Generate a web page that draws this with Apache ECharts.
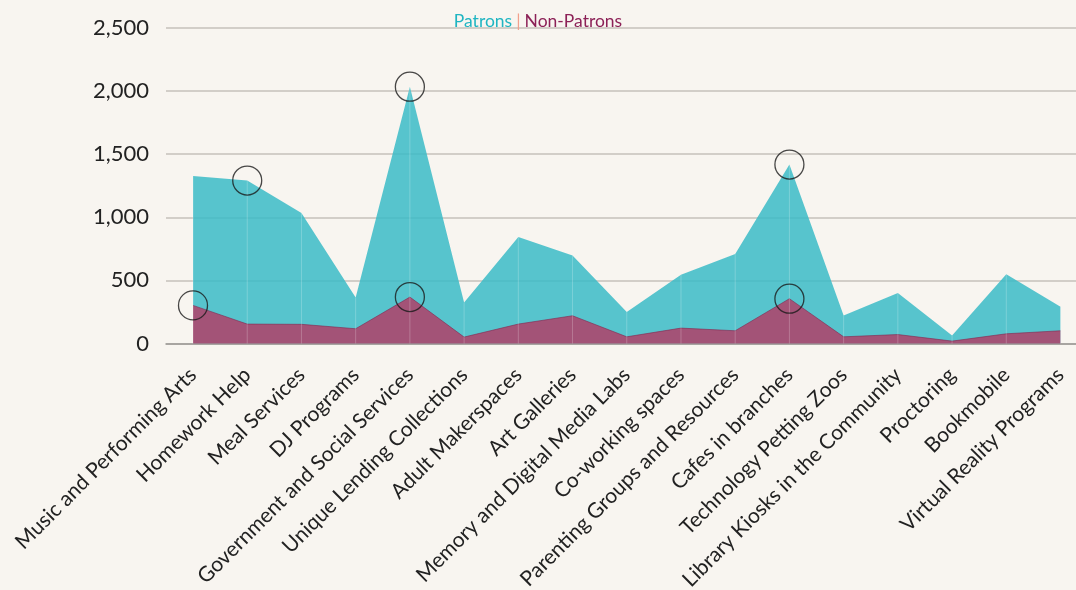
<!DOCTYPE html>
<html>
<head>
<meta charset="utf-8">
<script src="https://cdn.jsdelivr.net/npm/echarts@6/dist/echarts.min.js"></script>
<style>
  html, body { margin: 0; padding: 0; background: #f8f5f0; }
  #chart { width: 1076px; height: 590px; }
</style>
</head>
<body>
<div id="chart"></div>
<script>
var categories = [
    'Music and Performing Arts', 'Homework Help', 'Meal Services', 'DJ Programs',
    'Government and Social Services', 'Unique Lending Collections', 'Adult Makerspaces',
    'Art Galleries', 'Memory and Digital Media Labs', 'Co-working spaces',
    'Parenting Groups and Resources', 'Cafes in branches', 'Technology Petting Zoos',
    'Library Kiosks in the Community', 'Proctoring', 'Bookmobile', 'Virtual Reality Programs'
];
var patrons = [1328, 1291, 1035, 365, 2035, 325, 844, 698, 249, 545, 710, 1418, 222, 400, 63, 548, 291];
var nonPatrons = [302, 154, 152, 117, 368, 51, 154, 220, 53, 122, 101, 355, 53, 71, 19, 77, 101];
// points that get a ring drawn round them
var patronRings = [1, 4, 11];
var nonPatronRings = [0, 4, 11];
var yTicks = { min: 0, max: 2500, interval: 500 };

var chart = echarts.init(document.getElementById('chart'));
var font = 'Lato, "Open Sans", sans-serif';

function rings(idx, values) {
    return idx.map(function (i) { return [categories[i], values[i]]; });
}

var option = {
    backgroundColor: '#f8f5f0',
    textStyle: { fontFamily: font },
    title: {
        left: 'center',
        top: 7,
        text: '{a|Patrons}{s||}{b|Non-Patrons}',
        textStyle: {
            fontWeight: 'normal',
            rich: {
                a: { color: '#1fb5c2', fontSize: 17.5, fontWeight: 'normal', fontFamily: font },
                s: { color: '#f2a08c', fontSize: 17.5, fontWeight: 'normal', fontFamily: font, padding: [0, 4] },
                b: { color: '#8c2157', fontSize: 17.5, fontWeight: 'normal', fontFamily: font }
            }
        }
    },
    grid: [
        { left: 166, top: 28, width: 930, height: 315.5, outerBoundsMode: 'none', containLabel: false },
        { left: 193, top: 28, width: 867.5, height: 315.5, outerBoundsMode: 'none', containLabel: false }
    ],
    xAxis: [
        {
            gridIndex: 0, type: 'value', min: 0, max: 1,
            axisLine: { show: true, lineStyle: { color: '#9a9894', width: 1.5 } },
            axisTick: { show: false }, axisLabel: { show: false }, splitLine: { show: false }
        },
        {
            gridIndex: 1, type: 'category', data: categories, boundaryGap: false,
            axisLine: { show: false },
            axisTick: { show: false },
            splitLine: { show: false },
            axisLabel: {
                rotate: 45, interval: 0, margin: 28,
                color: '#222', fontSize: 21, fontFamily: font
            }
        }
    ],
    yAxis: [
        {
            gridIndex: 0, type: 'value', min: yTicks.min, max: yTicks.max, interval: yTicks.interval,
            axisLine: { show: false }, axisTick: { show: false },
            splitLine: { lineStyle: { color: '#c6c1bb', width: 1.5 } },
            axisLabel: { color: '#222', fontSize: 22, margin: 17, fontFamily: font }
        },
        {
            gridIndex: 1, type: 'value', min: yTicks.min, max: yTicks.max, interval: yTicks.interval,
            show: false, splitLine: { show: false }
        }
    ],
    series: [
        {
            name: 'Patrons',
            type: 'line',
            xAxisIndex: 1, yAxisIndex: 1,
            data: patrons,
            symbol: 'none',
            lineStyle: { width: 0 },
            areaStyle: { color: 'rgb(59,187,199)', opacity: 0.85 },
            z: 2
        },
        {
            name: 'Non-Patrons',
            type: 'line',
            xAxisIndex: 1, yAxisIndex: 1,
            data: nonPatrons,
            symbol: 'none',
            lineStyle: { width: 1, color: 'rgba(130,40,80,0.6)' },
            areaStyle: { color: 'rgb(176,64,103)', opacity: 0.85 },
            z: 3
        },
        {
            // faint vertical rules inside the filled area
            type: 'bar',
            xAxisIndex: 1, yAxisIndex: 1,
            data: patrons,
            barWidth: 1,
            itemStyle: { color: 'rgba(255,255,255,0.22)' },
            silent: true,
            z: 4
        },
        {
            type: 'scatter',
            xAxisIndex: 1, yAxisIndex: 1,
            data: rings(patronRings, patrons).concat(rings(nonPatronRings, nonPatrons)),
            symbol: 'circle',
            symbolSize: 29,
            itemStyle: { color: 'rgba(0,0,0,0)', borderColor: '#1a1a1a', borderWidth: 1.3 },
            silent: true,
            z: 5
        }
    ]
};

chart.setOption(option);
</script>
</body>
</html>
